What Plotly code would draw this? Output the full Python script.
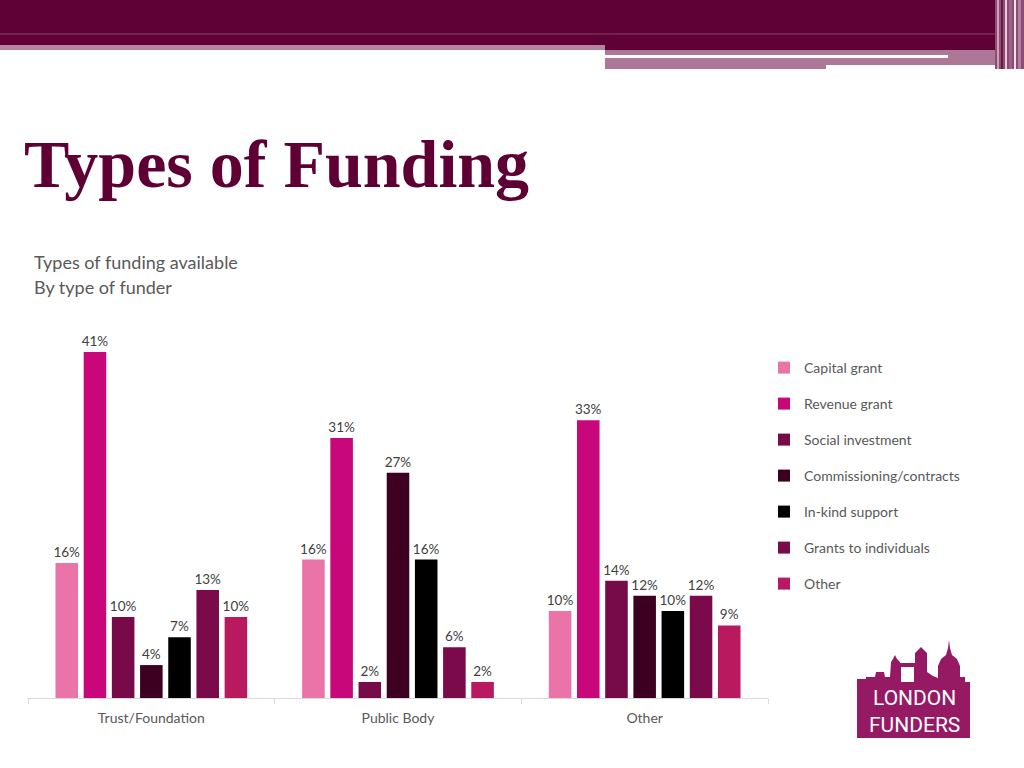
import plotly.graph_objects as go

# ---------------- data ----------------
categories = ["Trust/Foundation", "Public Body", "Other"]
series_names = ["Capital grant", "Revenue grant", "Social investment",
                "Commissioning/contracts", "In-kind support",
                "Grants to individuals", "Other"]
capital_grant = [16.0, 16.4, 10.3]
revenue_grant = [41.0, 30.8, 32.9]
social_investment = [9.6, 1.9, 13.9]
commissioning = [3.9, 26.7, 12.1]
in_kind = [7.2, 16.4, 10.3]
grants_individuals = [12.8, 6.0, 12.1]
other = [9.6, 1.9, 8.6]
series_values = [capital_grant, revenue_grant, social_investment, commissioning,
                 in_kind, grants_individuals, other]
series_colors = ["#EA73A8", "#C8077B", "#770A49", "#3E0020", "#000000",
                 "#7A0A4A", "#B8195F"]

W, H = 1024, 768
def px(x):
    return x / W
def py(y):
    return 1 - y / H

fig = go.Figure()
for i, (name, vals, col) in enumerate(zip(series_names, series_values, series_colors)):
    fig.add_trace(go.Bar(
        name=name, x=categories, y=vals, marker_color=col,
        marker_line_width=0,
        text=vals, texttemplate="%{y:.0f}%", textposition="outside",
        constraintext="none",
        textfont=dict(size=13.5, color="#404040", family="Lato, sans-serif"),
        cliponaxis=False, legendgroup=f"g{i}",
    ))

shapes = []
def rect(x0, y0, x1, y1, color):
    shapes.append(dict(type="rect", xref="paper", yref="paper",
                       x0=px(x0), x1=px(x1), y0=py(y1), y1=py(y0),
                       fillcolor=color, line_width=0, layer="below"))

# header bands
rect(0, 0, 1024, 45, "#5F0037")
rect(0, 45, 605, 50, "#B5849F")
rect(605, 45, 1000, 50, "#5F0037")
rect(605, 50, 1000, 65, "#AD7898")
rect(605, 65, 826, 69, "#AD7898")
rect(605, 55, 948, 58, "#FFFFFF")
rect(0, 33.5, 1000, 34.5, "#84456A")
# right edge stripes
rect(995, 0, 1024, 69, "#8E4C74")
for x0, x1, c in [(997, 999, "#C9A2B8"), (1001, 1003, "#6B1A48"), (1005, 1007, "#E3CAD8"),
                  (1009, 1012, "#A06287"), (1014, 1016, "#F0E2EA"), (1018, 1021, "#B47D9D")]:
    rect(x0, 0, x1, 69, c)

# logo
logo_col = "#951A63"
rect(857, 682, 970, 738, logo_col)
sky = [(857, 683), (857, 679), (866, 679), (866, 677), (875, 677), (876, 672), (884, 672),
       (885, 677), (890, 677), (891, 662), (893, 659), (895, 655), (897, 659), (900, 662),
       (900, 663), (915, 663), (915, 653), (918, 650), (921, 647), (924, 650), (927, 653),
       (927, 672), (933, 676), (938, 678), (938, 666), (941, 659), (946, 655), (948, 648),
       (949, 640), (950, 648), (952, 655), (957, 659), (960, 666), (960, 677), (965, 677),
       (965, 683)]
path = "M " + " L ".join(f"{px(x)},{py(y)}" for x, y in sky) + " Z"
shapes.append(dict(type="path", xref="paper", yref="paper", path=path,
                   fillcolor=logo_col, line_width=0, layer="below"))
rect(901, 667, 914, 682, "#FFFFFF")

annotations = [
    dict(text="<b>Types of Funding</b>", x=px(22), y=py(164), xref="paper", yref="paper",
         xanchor="left", yanchor="middle", showarrow=False,
         font=dict(family="Liberation Serif, serif", size=68, color="#5E0034")),
    dict(text="Types of funding available", x=px(32), y=py(262), xref="paper", yref="paper",
         xanchor="left", yanchor="middle", showarrow=False,
         font=dict(family="Lato, sans-serif", size=18, color="#595959")),
    dict(text="By type of funder", x=px(32), y=py(287), xref="paper", yref="paper",
         xanchor="left", yanchor="middle", showarrow=False,
         font=dict(family="Lato, sans-serif", size=18, color="#595959")),
    dict(text="LONDON<br>FUNDERS", x=px(914), y=py(711), xref="paper", yref="paper",
         xanchor="center", yanchor="middle", showarrow=False, align="center",
         font=dict(family="Roboto, sans-serif", size=21, color="#FFFFFF")),
]

fig.update_layout(
    width=W, height=H,
    margin=dict(l=0, r=0, t=0, b=0),
    paper_bgcolor="white", plot_bgcolor="white",
    barmode="group", bargap=0.2, bargroupgap=0.2,
    shapes=shapes, annotations=annotations,
    showlegend=True,
    legend=dict(x=px(764), y=py(352), xanchor="left", yanchor="top",
                font=dict(family="Lato, sans-serif", size=14, color="#595959"),
                tracegroupgap=14.8, bgcolor="rgba(0,0,0,0)", traceorder="grouped"),
    xaxis=dict(domain=[px(28), px(768)], showline=True, linecolor="#D9D9D9",
               linewidth=1, ticks="outside", tickson="boundaries", ticklen=5,
               tickcolor="#D9D9D9", showgrid=False, ticklabelstandoff=7,
               tickfont=dict(family="Lato, sans-serif", size=14, color="#595959")),
    yaxis=dict(domain=[py(698), py(330)], range=[0, 43.6], showgrid=False,
               showticklabels=False, zeroline=False, showline=False),
)

fig.write_html("out.html", config={"displayModeBar": False},
               post_script="document.body.style.margin='0';")
